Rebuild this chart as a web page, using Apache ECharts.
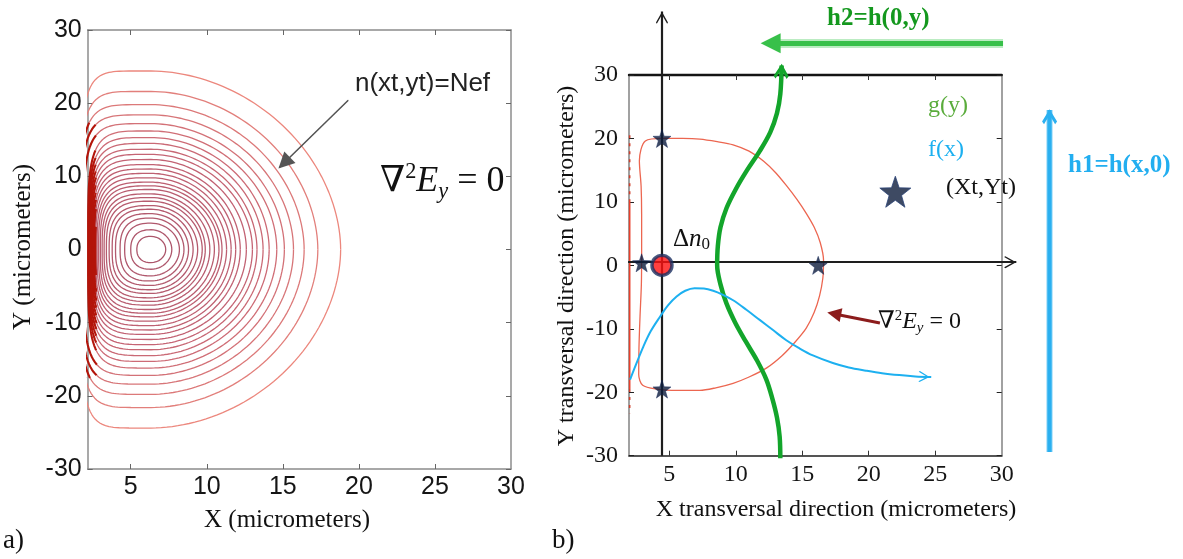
<!DOCTYPE html>
<html><head><meta charset="utf-8">
<script src="https://cdn.jsdelivr.net/npm/echarts@6/dist/echarts.min.js"></script>
<style>html,body{margin:0;padding:0;background:#fff}#c{width:1183px;height:559px}</style>
</head><body><div id="c"></div>
<script>
// ---------------- data ----------------
const xTickLabels = [5, 10, 15, 20, 25, 30];
const xInnerTicks = [5, 10, 15, 20, 25];
const yTickLabels = [-30, -20, -10, 0, 10, 20, 30];

// panel a: contour family of n(x,y)
const contourCenter = [6.33, 0];
const contourTop   = [24.4, 21.6, 19.8, 18.4, 17.2, 16.2, 15.3, 14.5, 13.7, 13.0, 12.3, 11.6, 11.0, 10.4, 9.8, 9.2, 8.7, 8.2, 7.6, 7.1, 6.6, 6.0, 5.5, 4.9, 4.3, 3.6, 2.7, 1.8];
const contourRight = [18.8, 17.3, 16.4, 15.7, 15.1, 14.6, 14.1, 13.7, 13.3, 13.0, 12.6, 12.2, 11.9, 11.6, 11.3, 11.0, 10.8, 10.5, 10.2, 9.9, 9.7, 9.4, 9.1, 8.8, 8.5, 8.2, 7.7, 7.3];
const contourLeft  = [1.75, 1.70, 1.70, 1.75, 1.90, 2.20, 2.24, 2.28, 2.32, 2.37, 2.42, 2.48, 2.55, 2.62, 2.70, 2.79, 2.89, 3.00, 3.12, 3.25, 3.40, 3.58, 3.78, 4.00, 4.30, 4.60, 5.00, 5.40];
const pointerA = [[19.3, 20.4], [14.77, 11.2]];

// panel b
const boundaryCurve = [[4.55,20.0],[6.0,20.0],[7.3,19.9],[8.6,19.5],[9.8,19.0],[11.0,18.0],[12.1,16.4],[13.0,14.6],[13.8,12.6],[14.6,10.4],[15.3,8.2],[15.9,6.0],[16.35,3.6],[16.6,0.8],[16.55,-2.0],[16.3,-4.8],[15.9,-7.4],[15.3,-9.9],[14.5,-12.0],[13.5,-14.2],[12.3,-16.2],[11.0,-17.6],[9.8,-18.6],[8.5,-19.3],[7.3,-19.7],[5.6,-19.7],[4.05,-19.5],[3.0,-18.9],[2.7,-17.2],[2.72,-13],[2.8,-8],[2.9,-3],[2.92,2],[2.92,8],[2.88,12.5],[2.75,16.5],[3.2,19.6],[4.55,20.0]];
const edgeSolid = [[2.02, 10.3], [2.02, -19.5]];
const edgeDotted = [[[2.02, 20.5], [2.02, 10.3]], [[2.02, -19.5], [2.02, -23.3]]];
const gCurve = [[13.35,-30.4],[13.3,-27],[13.1,-24],[12.75,-21],[12.3,-18],[11.6,-15],[10.75,-12],[9.95,-9],[9.3,-6],[8.85,-3],[8.6,0],[8.65,3],[8.85,6],[9.3,9],[10.0,12],[10.85,15],[11.8,18],[12.6,21],[13.1,24],[13.35,27],[13.45,31.5]];
const fCurve = [[2.05,-18],[2.5,-15.6],[3.05,-12.8],[3.6,-10.4],[4.3,-8.1],[4.9,-6.3],[5.55,-4.9],[6.2,-4.0],[6.9,-3.6],[7.6,-3.65],[8.3,-4.0],[9.0,-4.6],[9.8,-5.5],[10.8,-7.0],[11.8,-8.6],[12.8,-10.2],[13.8,-11.8],[14.8,-13.1],[15.8,-14.2],[17.3,-15.4],[18.5,-16.1],[19.8,-16.6],[21.0,-17.0],[22.3,-17.3],[23.5,-17.5],[24.7,-17.6]];
const smallStars = [[4.45, 20], [2.92, 0.4], [4.45, -19.5], [16.2, 0]];
const targetStar = [[22.0, 11.6]];
const dn0Point = [[4.45, 0]];
const vAxisArrow = [[4.45, -30], [4.45, 40]];
const hAxisArrow = [[1.9, 0.5], [31.1, 0.5]];
const h2Arrow = [[30.1, 35], [11.8, 35]];
const h1Arrow = [[33.6, -29.4], [33.6, 24.5]];
const pointerB = [[20.84, -9.08], [16.93, -7.45]];

// ---------------- drawing ----------------
const SERIF = '"Liberation Serif","DejaVu Serif",serif';
const SANS = '"Liberation Sans",Arial,sans-serif';
const STAR = 'path://M0,-10 L2.35,-3.24 L9.51,-3.09 L3.8,1.24 L5.88,8.09 L0,4 L-5.88,8.09 L-3.8,1.24 L-9.51,-3.09 L-2.35,-3.24 Z';
const CHEVRON = 'path://M0,0 L10,12 L8.6,13.4 L0,3.2 L-8.6,13.4 L-10,12 Z';
const CHEVRON_BOLD = 'path://M0,0 L10,11 L7.4,13.4 L0,5.2 L-7.4,13.4 L-10,11 Z';
const TRI = 'path://M0,0 L8,16 L-8,16 Z';

function sp(v, e) { return Math.sign(v) * Math.pow(Math.abs(v), e); }
function mix(a, b, t) {
  const pa = [1,3,5].map(i => parseInt(a.substr(i,2),16));
  const pb = [1,3,5].map(i => parseInt(b.substr(i,2),16));
  return 'rgb(' + pa.map((v,i) => Math.round(v + (pb[i]-v)*t)).join(',') + ')';
}
function contourColor(f) {
  return f > 0.5 ? mix('#c26273', '#ec877d', (f-0.5)/0.5) : mix('#a8546a', '#c26273', f/0.5);
}

const series = [];
const N = 200;
contourTop.forEach((T, k) => {
  const xc = contourCenter[0], yc = contourCenter[1];
  const R = contourRight[k], L = xc - contourLeft[k];
  const f = T / contourTop[0];
  const pr = 2 - 0.1 * f, pl = 2 + 4 * f;
  const pts = [];
  for (let i = 0; i <= N; i++) {
    const t = 2 * Math.PI * i / N, c = Math.cos(t), s = Math.sin(t);
    if (c >= 0) pts.push([xc + (R - xc) * sp(c, 2/pr), yc + T * sp(s, 2/pr)]);
    else pts.push([xc - L * Math.pow(-c, 2/pl), yc + T * sp(s, 2/pl)]);
  }
  const edge = 2.72;
  const inBand = p => p[0] < edge && Math.abs(p[1]) < 17.5;
  let a = pts.findIndex(inBand);
  let segs;
  if (a < 0) segs = [[pts, contourColor(f), 1.3]];
  else {
    let b = pts.length - 1;
    while (!inBand(pts[b])) b--;
    segs = [[pts.slice(0, a + 1), contourColor(f), 1.3], [pts.slice(a, b + 2), '#b3140a', 2.1], [pts.slice(b + 1), contourColor(f), 1.3]];
  }
  segs.forEach(([d, col, w]) => series.push({
    type: 'line', xAxisIndex: 0, yAxisIndex: 0, data: d, showSymbol: false, symbol: 'none',
    lineStyle: { color: col, width: w }, silent: true, animation: false, z: 2
  }));
});

function lerp(p, q, t) { return [p[0] + (q[0]-p[0])*t, p[1] + (q[1]-p[1])*t]; }
function straight(from, to, xi, yi, color, width, z) {
  return { type: 'lines', coordinateSystem: 'cartesian2d', xAxisIndex: xi, yAxisIndex: yi, clip: false,
    symbol: ['none', 'none'], silent: true, animation: false, z: z || 4,
    lineStyle: { color: color, width: width, opacity: 1 }, data: [{ coords: [from, to] }] };
}
function arrowHead(from, to, xi, yi, color, sym, size, z) {
  return { type: 'lines', coordinateSystem: 'cartesian2d', xAxisIndex: xi, yAxisIndex: yi, clip: false,
    symbol: ['none', sym], symbolSize: size, silent: true, animation: false, z: z || 5,
    lineStyle: { color: color, width: 0.5, opacity: 1 }, data: [{ coords: [from, to] }] };
}

// panel a pointer
series.push(straight(pointerA[0], pointerA[1], 0, 0, '#555', 1.5, 6));
series.push(arrowHead(pointerA[0], lerp(pointerA[0], pointerA[1], 0.93), 0, 0, '#555', TRI, [11, 16], 6));

// panel b
series.push({ type: 'line', xAxisIndex: 2, yAxisIndex: 2, data: boundaryCurve, smooth: 0.3, showSymbol: false, symbol: 'none',
  lineStyle: { color: '#ec6650', width: 1.3 }, silent: true, animation: false, z: 3 });
series.push({ type: 'line', xAxisIndex: 2, yAxisIndex: 2, data: edgeSolid, showSymbol: false, symbol: 'none',
  lineStyle: { color: '#e8402c', width: 1.6 }, silent: true, animation: false, z: 3 });
edgeDotted.forEach(d => series.push({ type: 'line', xAxisIndex: 2, yAxisIndex: 2, data: d, showSymbol: false, symbol: 'none',
  lineStyle: { color: '#d0402c', width: 1.6, type: [3, 5] }, silent: true, animation: false, z: 3 }));

// axes arrows
series.push(straight(vAxisArrow[0], vAxisArrow[1], 2, 2, '#1e1e1e', 2.2, 4));
series.push(arrowHead(vAxisArrow[0], lerp(vAxisArrow[0], vAxisArrow[1], 0.986), 2, 2, '#1e1e1e', CHEVRON, [12, 12], 4));
series.push(straight(hAxisArrow[0], hAxisArrow[1], 2, 2, '#1e1e1e', 2.2, 4));
series.push(arrowHead(hAxisArrow[0], lerp(hAxisArrow[0], hAxisArrow[1], 0.984), 2, 2, '#1e1e1e', CHEVRON, [12, 12], 4));

// g(y) and f(x)
series.push({ type: 'line', xAxisIndex: 2, yAxisIndex: 2, data: gCurve, smooth: 0.35, clip: false, showSymbol: false, symbol: 'none',
  lineStyle: { color: '#13a52b', width: 4.5 }, silent: true, animation: false, z: 5 });
series.push(arrowHead(gCurve[gCurve.length-2], lerp(gCurve[gCurve.length-2], gCurve[gCurve.length-1], 0.8), 2, 2, '#13a52b', CHEVRON_BOLD, [19, 15], 5));
series.push({ type: 'line', xAxisIndex: 2, yAxisIndex: 2, data: fCurve, smooth: 0.35, clip: false, showSymbol: false, symbol: 'none',
  lineStyle: { color: '#1db0f0', width: 2 }, silent: true, animation: false, z: 5 });
series.push(arrowHead(fCurve[fCurve.length-2], lerp(fCurve[fCurve.length-2], fCurve[fCurve.length-1], 0.55), 2, 2, '#1db0f0', CHEVRON, [11, 11], 5));

// h1, h2 arrows
series.push(straight(h2Arrow[0], lerp(h2Arrow[0], h2Arrow[1], 0.95), 2, 2, 'rgba(60,200,80,0.35)', 9, 3));
series.push(straight(h2Arrow[0], lerp(h2Arrow[0], h2Arrow[1], 0.95), 2, 2, '#38c04a', 5, 4));
series.push(arrowHead(h2Arrow[0], lerp(h2Arrow[0], h2Arrow[1], 0.955), 2, 2, '#38c04a', TRI, [16, 20], 4));
series.push(straight(h1Arrow[0], h1Arrow[1], 2, 2, 'rgba(43,176,240,0.3)', 7, 3));
series.push(straight(h1Arrow[0], h1Arrow[1], 2, 2, '#2bb0f0', 4.5, 4));
series.push(arrowHead(h1Arrow[0], lerp(h1Arrow[0], h1Arrow[1], 0.98), 2, 2, '#2bb0f0', CHEVRON_BOLD, [15, 15], 4));

// pointer for ∇²Ey = 0
series.push(straight(pointerB[0], lerp(pointerB[0], pointerB[1], 0.8), 2, 2, '#8c1c1c', 3, 6));
series.push(arrowHead(pointerB[0], lerp(pointerB[0], pointerB[1], 0.88), 2, 2, '#8c1c1c', TRI, [12, 14], 6));

// points
series.push({ type: 'scatter', xAxisIndex: 2, yAxisIndex: 2, data: smallStars, symbol: STAR, symbolSize: 18,
  itemStyle: { color: '#0e1d3c', borderColor: '#16295a', borderWidth: 0.6 }, silent: true, animation: false, z: 7 });
series.push({ type: 'scatter', xAxisIndex: 2, yAxisIndex: 2, data: targetStar, symbol: STAR, symbolSize: 31,
  itemStyle: { color: '#0e1d3c', borderColor: '#2a4478', borderWidth: 1 }, silent: true, animation: false, z: 7 });
series.push({ type: 'scatter', xAxisIndex: 2, yAxisIndex: 2, data: dn0Point, symbol: 'circle', symbolSize: 20,
  itemStyle: { color: '#ff1010', borderColor: '#1a3060', borderWidth: 3.4 }, silent: true, animation: false, z: 8 });

function xAx(grid, pos, labels, style) {
  return {
    type: 'value', gridIndex: grid, position: pos, min: style.min, max: 30,
    axisLine: { show: true, onZero: false, lineStyle: { color: style.lineColor, width: style.lineWidth } },
    axisTick: { show: true, inside: true, length: 5, customValues: xInnerTicks, lineStyle: { color: style.tickColor, width: 1 } },
    axisLabel: labels ? { show: true, customValues: xTickLabels, fontFamily: style.font, fontSize: style.fontSize, color: '#151515', margin: style.margin } : { show: false },
    splitLine: { show: false }
  };
}
function yAx(grid, pos, labels, style) {
  return {
    type: 'value', gridIndex: grid, position: pos, min: -30, max: 30, interval: 10,
    axisLine: { show: true, onZero: false, lineStyle: { color: style.lineColor, width: style.lineWidth } },
    axisTick: { show: true, inside: true, length: 5, lineStyle: { color: style.tickColor, width: 1 } },
    axisLabel: labels ? { show: true, customValues: yTickLabels, fontFamily: style.font, fontSize: style.fontSize, color: '#151515', margin: style.margin } : { show: false },
    splitLine: { show: false }
  };
}
const sa = { min: 2.17, lineColor: '#8c8c8c', lineWidth: 1.5, tickColor: '#666', font: SANS, fontSize: 25, margin: 6 };
const sbBottom = { min: 1.97, lineColor: '#555', lineWidth: 1.8, tickColor: '#333', font: SERIF, fontSize: 24, margin: 7 };
const sbTop = { min: 1.97, lineColor: '#141414', lineWidth: 2.4, tickColor: '#333' };
const sbSide = { lineColor: '#8a8a8a', lineWidth: 1.6, tickColor: '#222', font: SERIF, fontSize: 24, margin: 11 };

function rt(text, x, y, size, color, opts) {
  return Object.assign({ type: 'text', x: x, y: y, silent: true, z: 20,
    style: Object.assign({ text: text, fontFamily: SERIF, fontSize: size, fill: color || '#111', align: 'left', verticalAlign: 'middle' }, (opts && opts.style) || {}) },
    (opts && opts.el) || {});
}
const eqRich = (s) => ({
  n: { fontFamily: SERIF, fontSize: s, lineHeight: s * 1.15, fill: '#111' },
  sup: { fontFamily: SERIF, fontSize: s * 0.62, verticalAlign: 'top', lineHeight: s * 0.62, fill: '#111' },
  e: { fontFamily: SERIF, fontSize: s, fontStyle: 'italic', lineHeight: s * 1.15, fill: '#111' },
  sub: { fontFamily: SERIF, fontSize: s * 0.62, fontStyle: 'italic', verticalAlign: 'bottom', lineHeight: s * 0.62, fill: '#111' },
  sub0: { fontFamily: SERIF, fontSize: s * 0.68, verticalAlign: 'bottom', lineHeight: s * 0.62, fill: '#111' }
});

const graphics = [
  rt('a)', 3, 541, 27),
  rt('b)', 552, 541, 27),
  rt('X (micrometers)', 287, 520, 25, '#111', { style: { align: 'center' } }),
  rt('Y (micrometers)', 23, 247, 25, '#111', { style: { align: 'center' }, el: { rotation: Math.PI / 2 } }),
  rt('X transversal direction (micrometers)', 836, 510, 24, '#111', { style: { align: 'center' } }),
  rt('Y transversal direction (micrometers)', 567, 266, 24, '#111', { style: { align: 'center' }, el: { rotation: Math.PI / 2 } }),
  rt('n(xt,yt)=Nef', 355, 84, 26, '#222', { style: { fontFamily: SANS } }),
  rt('{n|∇}{sup|2}{e|E}{sub|y}{n| = 0}', 380, 182, 36, '#111', { style: { rich: eqRich(36) } }),
  rt('{n|∇}{sup|2}{e|E}{sub|y}{n| = 0}', 878, 322, 24, '#111', { style: { rich: eqRich(24) } }),
  rt('{n|Δ}{e|n}{sub0|0}', 673, 239, 25, '#111', { style: { rich: eqRich(25) } }),
  rt('g(y)', 928, 106, 24, '#5aac3c'),
  rt('f(x)', 928, 150, 24, '#1cb0f0'),
  rt('(Xt,Yt)', 946, 188, 24, '#111'),
  rt('h1=h(x,0)', 1068, 166, 25, '#22aef0', { style: { fontWeight: 'bold' } }),
  rt('h2=h(0,y)', 827, 19, 25, '#14981e', { style: { fontWeight: 'bold' } })
];

const chart = echarts.init(document.getElementById('c'), null, { renderer: 'canvas' });
chart.setOption({
  animation: false,
  backgroundColor: '#fff',
  grid: [
    { left: 87.7, top: 30, width: 423.3, height: 439 },
    { left: 629, top: 75, width: 372.7, height: 380.7 }
  ],
  xAxis: [
    xAx(0, 'bottom', true, sa), xAx(0, 'top', false, sa),
    xAx(1, 'bottom', true, sbBottom), xAx(1, 'top', false, sbTop)
  ],
  yAxis: [
    yAx(0, 'left', true, sa), yAx(0, 'right', false, sa),
    yAx(1, 'left', true, sbSide), yAx(1, 'right', false, sbSide)
  ],
  graphic: graphics,
  series: series
});
</script></body></html>
